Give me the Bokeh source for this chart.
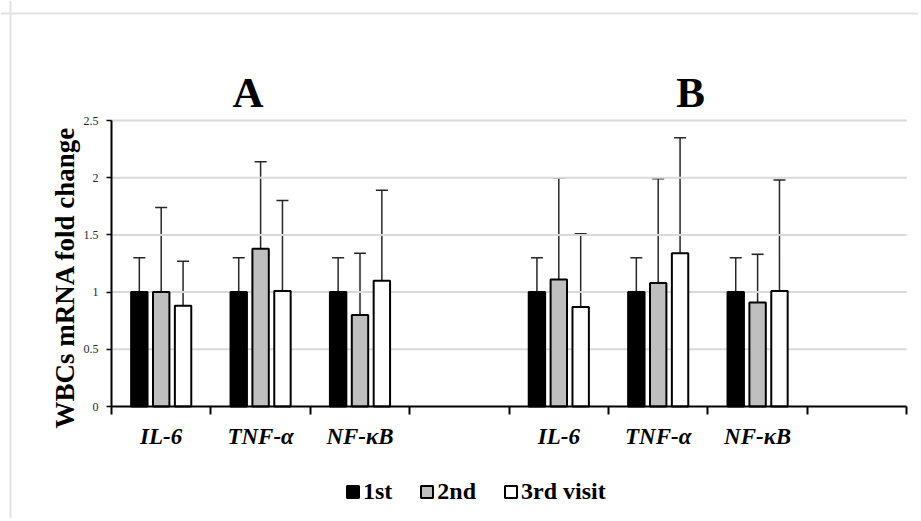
import math
from bokeh.plotting import figure
from bokeh.models import (ColumnDataSource, Range1d, FixedTicker, Whisker, TeeHead,
                          Label, Legend, LegendItem, LinearAxis, Span)
from bokeh.embed import file_html
from bokeh.resources import INLINE

nan = float("nan")

# ---------------- data ----------------
categories = ["IL-6", "TNF-α", "NF-κB", "", "IL-6", "TNF-α", "NF-κB", ""]
panel_titles = ["A", "B"]
series_names = ["1st", "2nd", "3rd visit"]

visit1 = [1.00, 1.00, 1.00, nan, 1.00, 1.00, 1.00, nan]
visit1_upper = [1.30, 1.30, 1.30, nan, 1.30, 1.30, 1.30, nan]
visit2 = [1.00, 1.38, 0.80, nan, 1.11, 1.08, 0.91, nan]
visit2_upper = [1.74, 2.14, 1.34, nan, 2.00, 1.99, 1.33, nan]
visit3 = [0.88, 1.01, 1.10, nan, 0.87, 1.34, 1.01, nan]
visit3_upper = [1.27, 1.80, 1.89, nan, 1.51, 2.35, 1.98, nan]

y_ticks = [0, 0.5, 1, 1.5, 2, 2.5]
y_tick_labels = ["0", "0.5", "1", "1.5", "2", "2.5"]

# ---------------- styling / layout ----------------
SERIF = "Liberation Serif"
fills = ["#000000", "#bfbfbf", "#ffffff"]
offsets = [-0.22, 0.0, 0.22]
bar_w = 0.165
n = len(categories)
y_max = y_ticks[-1]

p = figure(width=918, height=518, output_backend="svg", toolbar_location=None,
           x_range=Range1d(-1.1167, 8.1187), y_range=Range1d(-0.979, 3.549),
           x_axis_location=None, y_axis_location=None,
           min_border=0, min_border_left=0, min_border_right=0,
           min_border_top=0, min_border_bottom=0)
p.outline_line_color = None
p.background_fill_color = "white"
p.border_fill_color = "white"
p.xgrid.visible = False
p.ygrid.visible = False

# light frame around the figure (left and top edges visible)
p.add_layout(Span(location=-1.016, dimension="height", line_color="#e2e2e2", line_width=2))
p.add_layout(Span(location=3.435, dimension="width", line_color="#e2e2e2", line_width=2))

# horizontal grid lines over the category span
p.segment(x0=[0] * len(y_ticks[1:]), x1=[n] * len(y_ticks[1:]), y0=y_ticks[1:], y1=y_ticks[1:],
          line_color="#d9d9d9", line_width=2)

renderers = []
for vals, ups, fill, off in zip([visit1, visit2, visit3],
                                [visit1_upper, visit2_upper, visit3_upper],
                                fills, offsets):
    xs, tops, uppers = [], [], []
    for i, (v, u) in enumerate(zip(vals, ups)):
        if not math.isnan(v):
            xs.append(i + 0.5 + off)
            tops.append(v)
            uppers.append(u)
    src = ColumnDataSource(dict(x=xs, top=tops, upper=uppers))
    r = p.vbar(x="x", top="top", bottom=0, width=bar_w, source=src,
               fill_color=fill, line_color="black", line_width=2)
    renderers.append(r)
    w = Whisker(source=src, base="x", upper="upper", lower="top", dimension="height",
                line_color="#262626", line_width=1.5,
                upper_head=TeeHead(size=12, line_color="#262626", line_width=1.5),
                lower_head=None)
    p.add_layout(w)

# y axis (drawn at x = 0)
ya = LinearAxis(fixed_location=0, bounds=(0, y_max))
ya.ticker = FixedTicker(ticks=y_ticks)
ya.major_label_overrides = {t: s for t, s in zip(y_ticks, y_tick_labels)}
ya.axis_line_color = "black"
ya.axis_line_width = 2
ya.major_tick_out = 5
ya.major_tick_in = 0
ya.major_tick_line_width = 1.5
ya.minor_tick_line_color = None
ya.major_label_text_font = SERIF
ya.major_label_text_font_size = "12px"
ya.major_label_text_color = "#262626"
ya.major_label_standoff = 8
p.add_layout(ya, "left")

# x axis (drawn at y = 0)
centers = [i + 0.5 for i in range(n)]
xa = LinearAxis(fixed_location=0, bounds=(0, n))
xa.ticker = FixedTicker(ticks=centers, minor_ticks=list(range(n + 1)))
xa.major_label_overrides = {c: s for c, s in zip(centers, categories)}
xa.axis_line_color = "black"
xa.axis_line_width = 2
xa.major_tick_line_color = None
xa.major_tick_out = 0
xa.major_tick_in = 0
xa.minor_tick_line_color = "black"
xa.minor_tick_line_width = 2
xa.minor_tick_out = 8
xa.minor_tick_in = 0
xa.major_label_text_font = SERIF
xa.major_label_text_font_size = "23px"
xa.major_label_text_font_style = "bold italic"
xa.major_label_text_color = "black"
xa.major_label_standoff = 9
p.add_layout(xa, "below")

# panel titles
for t, xpos in zip(panel_titles, [1.373, 5.825]):
    p.add_layout(Label(x=xpos, y=2.745, text=t, text_align="center",
                       text_baseline="alphabetic", text_font=SERIF,
                       text_font_size="43px", text_font_style="bold",
                       text_color="black"))

# y axis title
p.add_layout(Label(x=-0.472, y=1.128, text="WBCs mRNA fold change", angle=math.pi / 2,
                   text_align="center", text_baseline="alphabetic", text_font=SERIF,
                   text_font_size="27px", text_font_style="bold", text_color="black"))

# legend
legend = Legend(items=[LegendItem(label=s, renderers=[r]) for s, r in zip(series_names, renderers)],
                orientation="horizontal", location=(345, 13),
                glyph_width=15, glyph_height=15, label_standoff=3, spacing=27,
                padding=0, margin=0, border_line_color=None, background_fill_alpha=0,
                label_text_font=SERIF, label_text_font_size="24px",
                label_text_font_style="bold", label_text_color="black",
                label_height=20)
p.add_layout(legend)

open("out.html", "w").write(file_html(p, INLINE))
